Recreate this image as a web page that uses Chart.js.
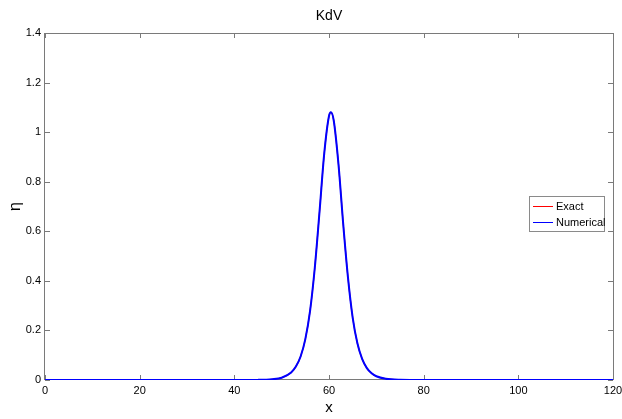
<!DOCTYPE html>
<html>
<head>
<meta charset="utf-8">
<script src="https://cdn.jsdelivr.net/npm/chart.js@4"></script>
<style>
    html, body { margin: 0; padding: 0; background: #fff; }
    #wrap { width: 622px; height: 419px; position: relative; }
</style>
</head>
<body>
<div id="wrap"><canvas id="kdvChart"></canvas></div>
<script>
// values
const xValues = [0, 20, 40, 45, 48, 50, 52, 53, 54, 55, 56, 57, 58, 59, 60, 60.4, 61, 62, 63, 64, 65, 66, 67, 68, 69, 70, 72, 75, 80, 100, 120];
const exactValues = [0, 0, 0, 0.0005, 0.003, 0.009, 0.030, 0.054, 0.095, 0.165, 0.279, 0.453, 0.679, 0.915, 1.065, 1.08, 1.047, 0.871, 0.630, 0.415, 0.252, 0.148, 0.085, 0.048, 0.027, 0.015, 0.005, 0.001, 0, 0, 0];
const numericalValues = [0, 0, 0, 0.0005, 0.003, 0.009, 0.030, 0.054, 0.095, 0.165, 0.279, 0.453, 0.679, 0.915, 1.065, 1.08, 1.047, 0.871, 0.630, 0.415, 0.252, 0.148, 0.085, 0.048, 0.027, 0.015, 0.005, 0.001, 0, 0, 0];
const seriesLabels = ['Exact', 'Numerical'];
const seriesColours = ['#ff0000', '#0000ff'];
const chartTitle = 'KdV';

const fontFamily = '"Liberation Sans", Arial, sans-serif';
const frameColour = '#7a7a7a';

function toPoints(ys) {
    return xValues.map((x, i) => ({ x, y: ys[i] }));
}

// MATLAB style box with inward ticks on all four sides
const framePlugin = {
    id: 'frame',
    beforeDatasetsDraw(chart) {
        const { ctx, chartArea: a, scales } = chart;
        ctx.save();
        ctx.strokeStyle = frameColour;
        ctx.lineWidth = 1;
        ctx.strokeRect(Math.round(a.left) - 0.5, Math.round(a.top) + 0.5,
            Math.round(a.right - a.left) + 1, Math.round(a.bottom - a.top) - 1);
        ctx.beginPath();
        scales.x.ticks.forEach((t) => {
            const px = Math.round(scales.x.getPixelForValue(t.value)) + 0.5;
            ctx.moveTo(px, a.bottom);
            ctx.lineTo(px, a.bottom - 5);
            ctx.moveTo(px, a.top);
            ctx.lineTo(px, a.top + 5);
        });
        scales.y.ticks.forEach((t) => {
            const py = Math.round(scales.y.getPixelForValue(t.value)) + 0.5;
            ctx.moveTo(a.left, py);
            ctx.lineTo(a.left + 5, py);
            ctx.moveTo(a.right, py);
            ctx.lineTo(a.right - 5, py);
        });
        ctx.stroke();
        ctx.restore();
    },
    // title centred over the plot box, like MATLAB does
    afterDraw(chart) {
        const { ctx, chartArea: a } = chart;
        ctx.save();
        ctx.font = `14px ${fontFamily}`;
        ctx.fillStyle = '#000';
        ctx.textAlign = 'center';
        ctx.textBaseline = 'middle';
        ctx.fillText(chartTitle, (a.left + a.right) / 2, 16.5);
        ctx.restore();
    },
};

// boxed legend inside the plot, right side
const boxLegendPlugin = {
    id: 'boxLegend',
    afterDraw(chart) {
        const { ctx } = chart;
        const left = 529.5, top = 196.5, width = 75, height = 35;
        ctx.save();
        ctx.fillStyle = '#fff';
        ctx.fillRect(left, top, width, height);
        ctx.strokeStyle = '#8a8a8a';
        ctx.lineWidth = 1;
        ctx.strokeRect(left, top, width, height);
        ctx.font = `11px ${fontFamily}`;
        ctx.textBaseline = 'middle';
        chart.data.datasets.forEach((ds, i) => {
            const y = 206.5 + i * 16;
            ctx.strokeStyle = ds.borderColor;
            ctx.lineWidth = 1;
            ctx.beginPath();
            ctx.moveTo(533, y);
            ctx.lineTo(553, y);
            ctx.stroke();
            ctx.fillStyle = '#000';
            ctx.fillText(ds.label, 556, y);
        });
        ctx.restore();
    },
};

const data = {
    datasets: [
        {
            label: seriesLabels[0],
            data: toPoints(exactValues),
            borderColor: seriesColours[0],
            borderWidth: 1.2,
            pointRadius: 0,
            cubicInterpolationMode: 'monotone',
            order: 2,
        },
        {
            label: seriesLabels[1],
            data: toPoints(numericalValues),
            borderColor: seriesColours[1],
            borderWidth: 2,
            pointRadius: 0,
            cubicInterpolationMode: 'monotone',
            order: 1,
        },
    ],
};

const ctx = document.querySelector('#kdvChart').getContext('2d');
new Chart(ctx, {
    type: 'line',
    data,
    options: {
        responsive: true,
        maintainAspectRatio: false,
        animation: false,
        layout: {
            padding: { left: 0, right: 0, top: 33, bottom: 0 },
        },
        plugins: {
            legend: { display: false },
            tooltip: { enabled: false },
            title: { display: false },
        },
        scales: {
            x: {
                type: 'linear',
                min: 0,
                max: 120,
                grid: { display: false, drawTicks: false },
                border: { display: false },
                ticks: {
                    stepSize: 20,
                    padding: 4,
                    maxRotation: 0,
                    color: '#000',
                    font: { family: fontFamily, size: 11 },
                },
                title: {
                    display: true,
                    text: 'x',
                    color: '#000',
                    font: { family: fontFamily, size: 15 },
                    padding: { top: 0, bottom: 2.5 },
                },
                afterFit(scale) {
                    scale.height = 39;
                    scale.paddingRight = 9;
                },
            },
            y: {
                min: 0,
                max: 1.4,
                grid: { display: false, drawTicks: false },
                border: { display: false },
                ticks: {
                    stepSize: 0.2,
                    padding: 4,
                    color: '#000',
                    font: { family: fontFamily, size: 11 },
                    callback: (v) => String(Math.round(v * 10) / 10),
                },
                title: {
                    display: true,
                    text: 'η',
                    color: '#000',
                    font: { family: fontFamily, size: 16 },
                    padding: { top: 6.4, bottom: 0 },
                },
                afterFit(scale) {
                    scale.width = 45;
                },
            },
        },
    },
    plugins: [framePlugin, boxLegendPlugin],
});
</script>
</body>
</html>
